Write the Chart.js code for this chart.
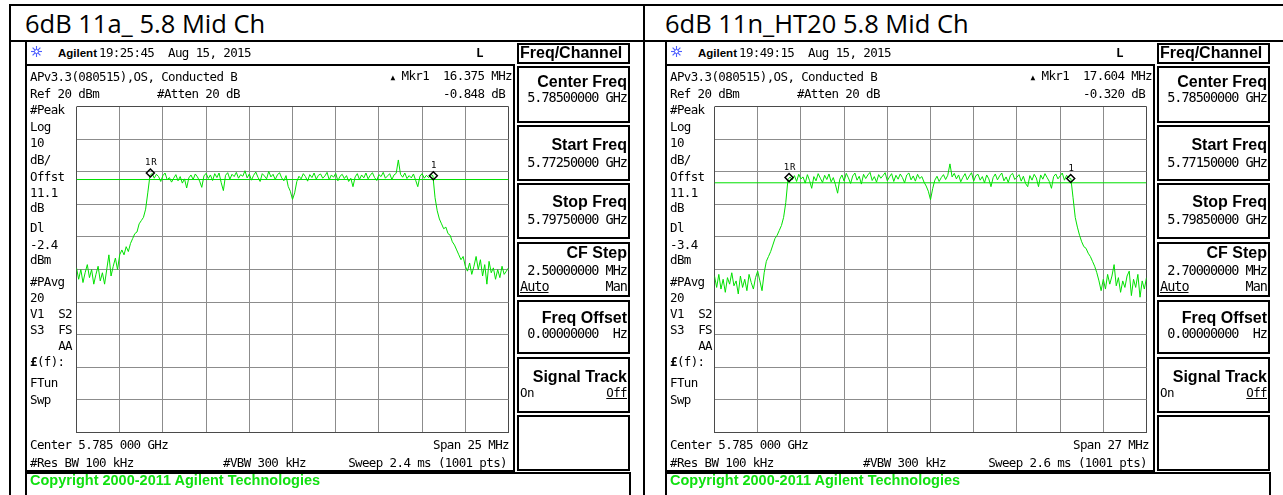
<!DOCTYPE html>
<html>
<head>
<meta charset="utf-8">
<script src="https://cdn.jsdelivr.net/npm/chart.js@4.4.0/dist/chart.umd.min.js"></script>
<style>
body{margin:0;width:1283px;height:495px;overflow:hidden;background:#fff;position:relative;font-family:'DejaVu Sans Mono',monospace;}
.t{position:absolute;white-space:pre;line-height:14px;font-size:12.5px;letter-spacing:-0.62px;color:#000;}
.k{font-family:'Liberation Sans',Arial,sans-serif;font-weight:bold;font-size:16px;letter-spacing:0;line-height:18px;}
.v{font-size:13.5px;letter-spacing:-1px;line-height:16px;}
.g{font-family:'Liberation Sans',Arial,sans-serif;font-weight:bold;font-size:11.5px;letter-spacing:0;}
.c{font-family:'Liberation Sans',Arial,sans-serif;font-weight:bold;font-size:14.5px;letter-spacing:0;color:#10e010;line-height:16px;}
.ttl{position:absolute;font-family:'Open Sans',sans-serif;font-size:25.5px;line-height:26px;white-space:pre;color:#000;}
.box{position:absolute;border:2px solid #000;box-sizing:border-box;}
.ln{position:absolute;background:#000;}
canvas{position:absolute;}
</style>
</head>
<body>
<canvas id="chartA" width="443" height="337" style="left:71px;top:101px"></canvas>
<canvas id="chartB" width="443" height="337" style="left:709px;top:101px"></canvas>
<script>
// trace levels in dBm, 201 points over the span (left: 11a, right: 11n HT20)
const levels11a = [
  -29.5, -33.0, -30.0, -34.0, -31.0, -28.5, -32.5, -30.0, -34.5, -31.5,
  -29.0, -33.5, -31.0, -34.5, -30.0, -25.5, -32.0, -29.0, -26.5, -30.0,
  -25.5, -24.0, -25.5, -23.0, -24.5, -22.0, -20.5, -19.0, -18.5, -16.0,
  -15.0, -14.0, -11.5, -6.5, -1.2, -0.5, -2.0, -0.8, -1.5, -3.0,
  -1.2, -0.4, -2.5, -1.8, -3.2, -2.0, -0.9, -2.8, -1.5, -3.5,
  -2.2, -5.0, -1.9, -1.0, -2.4, -0.7, -1.6, -2.9, -4.8, -1.3,
  -0.5, -2.1, -1.0, -2.7, -0.6, -1.8, -0.4, -3.4, -5.8, -1.1,
  -0.3, -2.3, -0.8, -1.5, -0.2, -2.0, -0.9, -1.4, 0.3, -1.9,
  -0.7, -2.6, -1.1, -0.1, -1.7, -3.0, -0.6, -1.3, -2.2, 0.1,
  -1.6, -0.8, -2.4, -1.0, -0.3, -1.9, -2.8, -1.2, -4.5, -6.0,
  -8.5, -6.5, -3.0, -1.4, -2.2, -0.6, -1.5, -2.9, -0.9, -1.8,
  -0.4, -2.3, -1.1, -0.7, -2.0, -1.3, -0.2, -2.5, -1.0, -1.7,
  -0.5, -2.8, -1.4, -0.8, -2.1, -1.2, -3.0, -2.0, -4.6, -1.6,
  -0.6, -2.4, -1.0, -1.9, -0.4, -2.2, -1.1, -0.3, -1.8, -2.7,
  -0.9, -1.5, -0.2, -2.0, -1.3, -0.6, -2.4, -1.0, -0.5, 3.6,
  -0.8, -1.7, -0.4, -2.1, -1.2, -1.9, -0.7, -2.6, -4.6, -1.4,
  -0.6, -2.0, -1.1, -1.8, -0.9, -1.2, -8.0, -12.0, -14.5, -16.0,
  -17.5, -17.0, -19.0, -19.5, -21.5, -22.5, -24.0, -25.5, -27.0, -26.0,
  -29.0, -30.5, -28.0, -31.5, -29.0, -26.0, -30.0, -27.0, -32.0, -28.5,
  -34.5, -27.5, -31.0, -29.5, -33.0, -30.0, -32.5, -29.0, -31.5, -30.5,
  -29.5
];
const levels11n = [
  -32.0, -35.5, -31.5, -36.0, -33.0, -37.0, -32.5, -34.5, -31.0, -35.0,
  -33.5, -37.5, -32.0, -35.5, -33.0, -36.5, -31.5, -34.0, -36.0, -32.5,
  -30.5, -33.5, -36.5, -31.0, -27.5, -26.0, -24.5, -22.5, -20.5, -19.5,
  -18.0, -16.5, -14.0, -9.5, -2.4, -1.6, -2.5, -1.2, -3.0, -0.8,
  -2.2, -1.6, -3.5, -0.9, -2.7, -5.1, -1.5, -2.8, -0.6, -2.0,
  -3.3, -1.1, -2.4, -0.7, -3.1, -1.8, -4.0, -6.6, -2.3, -1.0,
  -2.9, -0.5, -1.9, -3.6, -1.3, -0.4, -2.6, -1.4, -3.8, -0.8,
  -2.1, -1.0, -0.2, -2.7, -1.5, -3.2, -0.9, -2.0, -1.2, -0.3,
  -2.8, -1.6, -0.6, -3.0, -1.1, -2.3, -0.7, -1.8, -3.4, -1.0,
  -0.4, -2.5, -1.3, -2.9, -0.8, -2.1, -1.5, -3.2, -4.4, -6.0,
  -8.6, -5.2, -2.6, -1.4, -3.0, -1.8, -0.9, -2.4, -1.1, 2.4,
  -1.6, -0.5, -2.2, -1.0, -3.1, -1.7, -0.6, -2.5, -1.3, -0.3,
  -2.9, -1.2, -0.8, -2.6, -1.5, -3.4, -1.0, -2.2, -4.6, -1.8,
  -0.7, -2.5, -1.3, -0.4, -2.8, -1.6, -3.3, -1.1, -0.5, -2.4,
  -1.7, -0.9, -2.9, -1.4, -3.6, -4.6, -1.2, -2.6, -0.8, -1.9,
  -4.6, -1.0, -2.3, -0.6, -1.8, -3.0, -5.1, -1.5, -0.7, -2.2,
  -1.3, -0.4, -2.6, -1.1, -1.9, -2.1, -8.0, -14.0, -17.0, -19.5,
  -21.5, -23.0, -23.5, -25.0, -26.0, -27.5, -29.0, -31.0, -33.5, -36.5,
  -33.0, -36.0, -31.5, -34.5, -32.0, -28.5, -35.0, -32.5, -37.0, -33.5,
  -35.5, -32.0, -30.5, -38.0, -33.0, -35.5, -31.5, -38.5, -33.5, -36.0,
  -32.5
];
// graticule divisions (MHz / dBm)
const gridA = [5772.5, 5775, 5777.5, 5780, 5782.5, 5785, 5787.5, 5790, 5792.5, 5795, 5797.5];
const gridB = [5771.5, 5774.2, 5776.9, 5779.6, 5782.3, 5785, 5787.7, 5790.4, 5793.1, 5795.8, 5798.5];
const gridY = [-80, -70, -60, -50, -40, -30, -20, -10, 0, 10, 20];
const displayLineA = -2.4;
const displayLineB = -3.4;
const markersA = [{x: 5776.775, y: -0.4}, {x: 5793.15, y: -1.25}];
const markersB = [{x: 5776.16, y: -1.8}, {x: 5793.764, y: -2.1}];
const markerText = ['1R', '1'];

const markerLabels = {
  id: 'markerLabels',
  afterDatasetsDraw(chart) {
    const ctx = chart.ctx;
    ctx.save();
    ctx.font = '9px "DejaVu Sans Mono"';
    ctx.letterSpacing = '1px';
    ctx.fillStyle = '#000';
    ctx.textAlign = 'center';
    ctx.textBaseline = 'middle';
    chart.getDatasetMeta(0).data.forEach((pt, i) => {
      ctx.fillText(markerText[i], pt.x + 1, pt.y - 10);
    });
    ctx.restore();
  }
};

function gridColor(c) {
  return (c.index === 0 || c.index === 10) ? '#4a4a4a' : '#8c8c8c';
}

function makeChart(id, levels, grid, dl, markers) {
  const first = grid[0], last = grid[grid.length - 1];
  const step = (last - first) / (levels.length - 1);
  const trace = levels.map((v, i) => ({x: first + i * step, y: v}));
  return new Chart(document.getElementById(id), {
    type: 'line',
    data: {
      datasets: [{
        data: markers,
        showLine: false,
        pointStyle: 'rectRot',
        pointRadius: 4,
        pointBorderWidth: 1.5,
        pointBorderColor: '#000',
        pointBackgroundColor: 'rgba(0,0,0,0)'
      }, {
        data: trace,
        borderColor: '#00e000',
        borderWidth: 1,
        pointRadius: 0,
        tension: 0
      }, {
        data: [{x: first, y: dl}, {x: last, y: dl}],
        borderColor: '#00e000',
        borderWidth: 1,
        pointRadius: 0
      }]
    },
    options: {
      responsive: false,
      animation: false,
      devicePixelRatio: 1,
      layout: {padding: 2},
      plugins: {legend: {display: false}, tooltip: {enabled: false}},
      scales: {
        x: {
          type: 'linear', min: first, max: last,
          afterBuildTicks: axis => { axis.ticks = grid.map(v => ({value: v})); },
          ticks: {display: false},
          grid: {color: gridColor, drawTicks: false},
          border: {display: false}
        },
        y: {
          min: -80, max: 20,
          afterBuildTicks: axis => { axis.ticks = gridY.map(v => ({value: v})); },
          ticks: {display: false},
          grid: {color: gridColor, drawTicks: false},
          border: {display: false}
        }
      }
    },
    plugins: [markerLabels]
  });
}

function put(x, y, s, cls, right) {
  const d = document.createElement('div');
  d.className = 't' + (cls ? ' ' + cls : '');
  d.innerHTML = s;
  document.body.appendChild(d);
  d.style.top = (y - d.offsetHeight / 2) + 'px';
  if (right) d.style.right = (1283 - x) + 'px';
  else d.style.left = x + 'px';
}
function box(x, y, w, h) {
  const d = document.createElement('div');
  d.className = 'box';
  Object.assign(d.style, {left: x + 'px', top: y + 'px', width: w + 'px', height: h + 'px'});
  document.body.appendChild(d);
}
function line(x, y, w, h) {
  const d = document.createElement('div');
  d.className = 'ln';
  Object.assign(d.style, {left: x + 'px', top: y + 'px', width: w + 'px', height: h + 'px'});
  document.body.appendChild(d);
}

const panels = [
  {ox: 0, title: '6dB 11a_ 5.8 Mid Ch', time: '19:25:45  Aug 15, 2015', mkr: '16.375 MHz', mkrDb: '-0.848 dB ',
   dl: '-2.4', start: '5.77250000 GHz', stop: '5.79750000 GHz', step: '2.50000000 MHz',
   span: 'Span 25 MHz', sweep: 'Sweep 2.4 ms (1001 pts)'},
  {ox: 640, title: '6dB 11n_HT20 5.8 Mid Ch', time: '19:49:15  Aug 15, 2015', mkr: '17.604 MHz', mkrDb: '-0.320 dB ',
   dl: '-3.4', start: '5.77150000 GHz', stop: '5.79850000 GHz', step: '2.70000000 MHz',
   span: 'Span 27 MHz', sweep: 'Sweep 2.6 ms (1001 pts)'}
];

// table frame
line(9, 4, 1274, 2);
line(9, 4, 2, 491);
line(9, 40, 1274, 2);
line(643, 4, 2, 491);

const star = '<svg width="11" height="11" viewBox="0 0 11 11"><g stroke="#4a5cff" stroke-width="1.1">' +
  '<line x1="5.5" y1="0" x2="5.5" y2="11"/><line x1="0" y1="5.5" x2="11" y2="5.5"/>' +
  '<line x1="1.6" y1="1.6" x2="9.4" y2="9.4"/><line x1="9.4" y1="1.6" x2="1.6" y2="9.4"/></g>' +
  '<circle cx="5.5" cy="5.5" r="2" fill="#fff" stroke="#4a5cff"/></svg>';

panels.forEach(p => {
  const o = p.ox;
  const t = document.createElement('div');
  t.className = 'ttl';
  t.textContent = p.title;
  t.style.left = (o + 25) + 'px';
  t.style.top = '10px';
  document.body.appendChild(t);

  line(o + 25, 42, 2, 453);
  box(o + 25, 64, 490, 408);
  box(o + 25, 472, 606, 30);
  box(o + 517, 43, 113, 21);
  [[66, 57], [125, 56], [183, 56], [242, 55], [300, 54], [357, 56], [415, 56]].forEach(b => box(o + 517, b[0], 113, b[1]));

  put(o + 31, 53, star);
  put(o + 58, 53, 'Agilent', 'g');
  put(o + 99, 53, p.time);
  put(o + 476, 53, '<b>L</b>');
  put(o + 520, 53, 'Freq/Channel', 'k');

  put(o + 30, 77, 'APv3.3(080515),OS, Conducted B');
  put(o + 512, 77, '<span style="font-size:8px">&#9650;</span> Mkr1  ' + p.mkr, '', true);
  put(o + 30, 94, 'Ref 20 dBm');
  put(o + 157, 94, '#Atten 20 dB');
  put(o + 512, 94, p.mkrDb, '', true);

  [['#Peak', 110], ['Log', 127], ['10', 143], ['dB/', 160], ['Offst', 177], ['11.1', 193], ['dB', 208],
   ['Dl', 228], [p.dl, 245], ['dBm', 260], ['#PAvg', 282], ['20', 298], ['V1', 314], ['S3', 330],
   ['<b>&pound;</b>(f):', 362], ['FTun', 383], ['Swp', 400]].forEach(s => put(o + 30, s[1], s[0]));
  [['S2', 314], ['FS', 330], ['AA', 346]].forEach(s => put(o + 72, s[1], s[0], '', true));

  put(o + 30, 445, 'Center 5.785 000 GHz');
  put(o + 30, 463, '#Res BW 100 kHz');
  put(o + 223, 463, '#VBW 300 kHz');
  put(o + 509, 445, p.span, '', true);
  put(o + 507, 463, p.sweep, '', true);

  put(o + 627, 82, 'Center Freq', 'k', true);
  put(o + 627, 97, '5.78500000 GHz', 'v', true);
  put(o + 627, 145, 'Start Freq', 'k', true);
  put(o + 627, 162, p.start, 'v', true);
  put(o + 627, 202, 'Stop Freq', 'k', true);
  put(o + 627, 219, p.stop, 'v', true);
  put(o + 627, 253, 'CF Step', 'k', true);
  put(o + 627, 270, p.step, 'v', true);
  put(o + 520, 286, '<u>Auto</u>', 'v');
  put(o + 627, 286, 'Man', 'v', true);
  put(o + 627, 318, 'Freq Offset', 'k', true);
  put(o + 627, 333, '0.00000000  Hz', 'v', true);
  put(o + 627, 377, 'Signal Track', 'k', true);
  put(o + 520, 393, 'On');
  put(o + 627, 393, '<u>Off</u>', '', true);

  put(o + 30, 480, 'Copyright 2000-2011 Agilent Technologies', 'c');
});

makeChart('chartA', levels11a, gridA, displayLineA, markersA);
makeChart('chartB', levels11n, gridB, displayLineB, markersB);
</script>
</body>
</html>
